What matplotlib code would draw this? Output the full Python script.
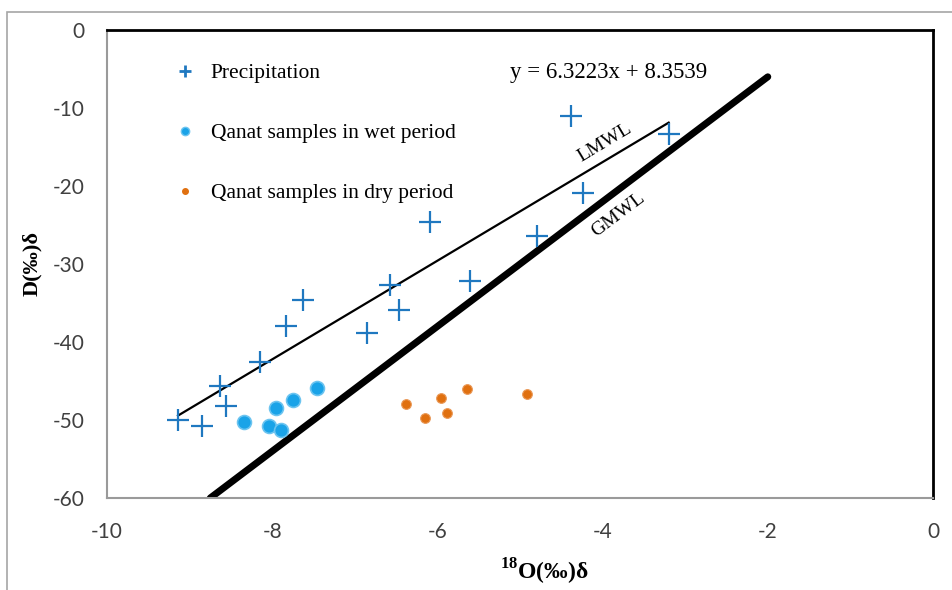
import matplotlib.pyplot as plt
from matplotlib.lines import Line2D
from matplotlib.patches import Rectangle

plt.rcParams['axes.unicode_minus'] = False
plt.rcParams['mathtext.fontset'] = 'custom'
plt.rcParams['mathtext.rm'] = 'Liberation Serif:bold'
plt.rcParams['mathtext.bf'] = 'Liberation Serif:bold'

# 降水样本 (δ18O, δD)
precip_x = [-9.14, -8.85, -8.63, -8.56, -8.15, -7.83, -7.63, -6.85, -6.57, -6.46,
            -6.09, -5.61, -4.79, -4.38, -4.24, -3.20]
precip_y = [-50.0, -50.8, -45.6, -48.2, -42.6, -37.9, -34.6, -38.8, -32.7, -35.9,
            -24.6, -32.2, -26.4, -11.0, -20.9, -13.3]

# 湿季坎儿井样本
wet_x = [-8.34, -8.04, -7.89, -7.95, -7.75, -7.46]
wet_y = [-50.3, -50.8, -51.3, -48.5, -47.4, -45.9]

# 干季坎儿井样本
dry_x = [-6.38, -6.15, -5.96, -5.88, -5.64, -4.92]
dry_y = [-47.9, -49.7, -47.2, -49.1, -46.0, -46.7]

# 当地大气降水线 LMWL 与全球大气降水线 GMWL
lmwl_slope, lmwl_icpt = 6.3223, 8.3539
lmwl_x = [-9.14, -3.20]
gmwl_slope, gmwl_icpt = 8, 10
gmwl_x = [-8.75, -2.0]

xticks = [-10, -8, -6, -4, -2, 0]
yticks = [0, -10, -20, -30, -40, -50, -60]

serif = 'Liberation Serif'
c_precip = '#1f78c0'
c_wet = '#1aa3e8'
c_dry = '#e07010'

fig = plt.figure(figsize=(9.52, 5.90), dpi=100)
ax = fig.add_axes([107 / 952, 1 - 498 / 590, 826 / 952, 468 / 590])

# 外框
fig.patches.append(Rectangle((7 / 952, -0.1), 1.2, 0.1 + 1 - 12 / 590,
                             transform=fig.transFigure, fill=False,
                             edgecolor='#a6a6a6', linewidth=1.2, zorder=0))

ax.plot(gmwl_x, [gmwl_slope * v + gmwl_icpt for v in gmwl_x],
        color='black', linewidth=5, solid_capstyle='round', zorder=2)
ax.plot(lmwl_x, [lmwl_slope * v + lmwl_icpt for v in lmwl_x],
        color='black', linewidth=1.6, zorder=2)

ax.plot(precip_x, precip_y, linestyle='none', marker='+', markersize=16,
        markeredgewidth=1.6, color=c_precip, zorder=3)
ax.plot(wet_x, wet_y, linestyle='none', marker='o', markersize=10,
        markerfacecolor=c_wet, markeredgecolor='#6cc4f0', markeredgewidth=1.2, zorder=3)
ax.plot(dry_x, dry_y, linestyle='none', marker='o', markersize=7,
        markerfacecolor=c_dry, markeredgecolor='#ea9a5a', markeredgewidth=0.8, zorder=3)

ax.set_xlim(-10, 0)
ax.set_ylim(-60, 0)
ax.set_xticks(xticks)
ax.set_yticks(yticks)
ax.tick_params(length=0, labelsize=15, colors='#404040')
ax.tick_params(axis='x', pad=17)
ax.tick_params(axis='y', pad=16)
for lab in ax.get_xticklabels() + ax.get_yticklabels():
    lab.set_family('Lato')

for s in ['top', 'right']:
    ax.spines[s].set_color('black')
    ax.spines[s].set_linewidth(2)
for s in ['left', 'bottom']:
    ax.spines[s].set_color('#9a9a9a')
    ax.spines[s].set_linewidth(1.5)

ax.set_xlabel(r'$^{18}$O(‰)δ', family=serif, fontsize=17, fontweight='bold')
ax.set_ylabel('D(‰)δ', family=serif, fontsize=16, fontweight='bold', labelpad=8)
ax.xaxis.set_label_coords(0.53, -0.158)
ax.xaxis.label.set_va('center')

ax.text(-5.12, -5.4, 'y = 6.3223x + 8.3539', family=serif, fontsize=16.5,
        ha='left', va='center')
ax.text(-3.98, -14.4, 'LMWL', family=serif, fontsize=14, rotation=31,
        ha='center', va='center')
ax.text(-3.81, -23.7, 'GMWL', family=serif, fontsize=14, rotation=37,
        ha='center', va='center')

handles = [
    Line2D([], [], linestyle='none', marker='+', markersize=8, markeredgewidth=2, color=c_precip),
    Line2D([], [], linestyle='none', marker='o', markersize=6, markerfacecolor=c_wet,
           markeredgecolor='#6cc4f0'),
    Line2D([], [], linestyle='none', marker='o', markersize=4, markerfacecolor=c_dry,
           markeredgecolor=c_dry),
]
labels = ['Precipitation', 'Qanat samples in wet period', 'Qanat samples in dry period']
ax.legend(handles, labels, loc='upper left', bbox_to_anchor=(0.055, 0.97),
          frameon=False, prop={'family': serif, 'size': 15.5},
          labelspacing=1.85, handletextpad=0.6, handlelength=1.2)

plt.savefig('out.png', dpi=100)
